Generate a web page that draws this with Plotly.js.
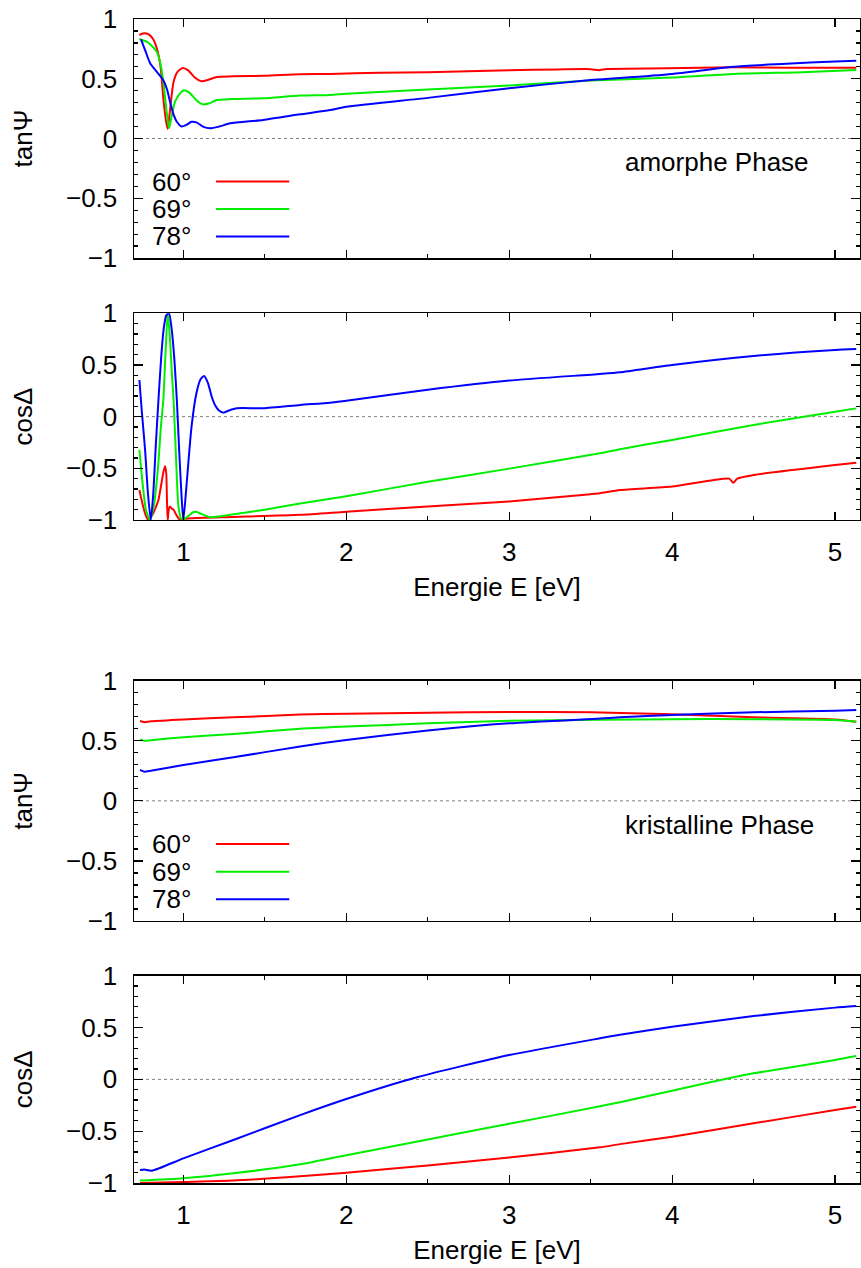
<!DOCTYPE html>
<html>
<head>
<meta charset="utf-8">
<script src="https://cdn.plot.ly/plotly-3.0.1.min.js"></script>
<style>html,body{margin:0;padding:0;background:#fff;}#chart{width:861px;height:1268px;}</style>
</head>
<body>
<div id="chart"></div>
<script>
// ---------- data ----------
const seriesNames = ["60°", "69°", "78°"];
const seriesColors = ["#ff0000", "#00ee00", "#0000ff"];
const xTitle = "Energie E [eV]";
const panelTitles = ["tanΨ", "cosΔ", "tanΨ", "cosΔ"];
const phaseLabels = ["amorphe Phase", "kristalline Phase"];

// Panel 1: amorphous, tan Psi
const amTan60E = [0.73,0.75,0.765,0.79,0.815,0.837,0.86,0.877,0.893,0.904,0.915,0.94,0.965,0.996,1.03,1.07,1.107,1.15,1.205,1.3,1.5,1.717,1.9,2.2,2.5,3.0,3.3,3.5,3.55,3.6,3.97,4.375,4.7,5.0,5.13];
const amTan60V = [0.866,0.878,0.88,0.87,0.83,0.755,0.6,0.336,0.15,0.08,0.2,0.475,0.56,0.59,0.57,0.51,0.48,0.49,0.515,0.52,0.525,0.538,0.54,0.55,0.555,0.572,0.578,0.58,0.572,0.582,0.587,0.596,0.593,0.592,0.593];
const amTan69E = [0.73,0.775,0.81,0.836,0.857,0.877,0.895,0.912,0.93,0.949,0.975,1.004,1.04,1.08,1.119,1.16,1.205,1.3,1.49,1.717,1.9,2.0,2.5,3.0,3.5,3.68,4.0,4.375,4.8,5.13];
const amTan69V = [0.833,0.81,0.77,0.727,0.64,0.475,0.25,0.085,0.2,0.308,0.37,0.403,0.38,0.32,0.286,0.295,0.322,0.33,0.336,0.359,0.364,0.375,0.41,0.443,0.485,0.494,0.51,0.54,0.555,0.573];
const amTan78E = [0.74,0.765,0.796,0.836,0.876,0.9,0.918,0.94,0.96,0.99,1.02,1.05,1.08,1.12,1.164,1.22,1.287,1.49,1.717,1.9,2.0,2.5,3.0,3.5,3.68,4.0,4.375,4.7,5.0,5.13];
const amTan78V = [0.83,0.74,0.63,0.56,0.49,0.41,0.308,0.2,0.14,0.1,0.115,0.14,0.135,0.1,0.085,0.1,0.127,0.155,0.202,0.238,0.265,0.34,0.42,0.49,0.506,0.54,0.601,0.625,0.645,0.651];

// Panel 2: amorphous, cos Delta
const amCos60E = [0.73,0.75,0.77,0.785,0.81,0.83,0.847,0.865,0.878,0.888,0.895,0.9,0.904,0.91,0.918,0.93,0.94,0.96,0.98,1.0,1.08,1.3,1.717,2.0,2.5,3.0,3.5,3.557,3.68,4.0,4.35,4.375,4.4,4.5,5.0,5.13];
const amCos60V = [-0.71,-0.85,-0.96,-1.0,-0.95,-0.88,-0.806,-0.65,-0.53,-0.48,-0.55,-0.85,-1.0,-0.9,-0.87,-0.89,-0.9,-0.96,-1.0,-0.99,-0.98,-0.97,-0.95,-0.92,-0.87,-0.82,-0.75,-0.741,-0.71,-0.677,-0.6,-0.64,-0.6,-0.564,-0.467,-0.445];
const amCos69E = [0.73,0.75,0.77,0.795,0.82,0.845,0.862,0.877,0.89,0.904,0.918,0.93,0.94,0.955,0.97,0.99,1.01,1.04,1.06,1.078,1.1,1.164,1.287,1.5,1.717,2.0,2.5,3.0,3.557,3.68,4.0,4.5,5.0,5.13];
const amCos69V = [-0.32,-0.65,-0.9,-1.0,-0.85,-0.48,-0.1,0.16,0.6,1.0,0.75,0.4,0.16,-0.4,-0.87,-1.0,-0.985,-0.95,-0.925,-0.92,-0.935,-0.973,-0.95,-0.9,-0.84,-0.77,-0.63,-0.503,-0.354,-0.315,-0.225,-0.08,0.048,0.08];
const amCos78E = [0.73,0.745,0.765,0.783,0.8,0.815,0.83,0.847,0.865,0.88,0.895,0.912,0.928,0.945,0.96,0.975,0.99,1.0,1.02,1.05,1.08,1.105,1.127,1.15,1.174,1.195,1.215,1.246,1.28,1.328,1.49,1.717,1.9,2.0,2.5,3.0,3.557,3.68,4.0,4.5,5.0,5.13];
const amCos78V = [0.355,0.05,-0.32,-0.75,-1.0,-0.75,-0.3,0.16,0.6,0.86,0.98,1.0,0.85,0.55,0.16,-0.35,-0.8,-1.0,-0.65,-0.1,0.226,0.36,0.394,0.33,0.193,0.11,0.065,0.039,0.06,0.081,0.081,0.113,0.135,0.155,0.26,0.349,0.413,0.43,0.5,0.587,0.645,0.655];

// Panel 3: crystalline, tan Psi
const krTan60E = [0.734,0.76,0.8,1.0,1.307,1.717,2.0,2.5,3.0,3.5,4.0,4.5,5.0,5.13];
const krTan60V = [0.664,0.655,0.662,0.678,0.695,0.718,0.725,0.733,0.74,0.737,0.72,0.695,0.678,0.659];
const krTan69E = [0.734,0.76,0.8,1.0,1.307,1.717,2.0,2.5,3.0,3.557,4.0,4.5,5.0,5.13];
const krTan69V = [0.512,0.5,0.505,0.529,0.556,0.6,0.618,0.645,0.666,0.675,0.68,0.68,0.673,0.659];
const krTan78E = [0.734,0.76,0.8,1.0,1.307,1.717,2.0,2.5,3.0,3.557,3.68,4.0,4.5,5.0,5.13];
const krTan78V = [0.257,0.243,0.25,0.298,0.362,0.453,0.507,0.585,0.645,0.685,0.695,0.714,0.737,0.75,0.756];

// Panel 4: crystalline, cos Delta
const krCos60E = [0.734,1.0,1.307,1.717,2.0,2.5,3.0,3.557,3.68,4.0,4.5,5.0,5.13];
const krCos60V = [-1.0,-0.99,-0.977,-0.935,-0.9,-0.83,-0.753,-0.656,-0.625,-0.553,-0.424,-0.296,-0.264];
const krCos69E = [0.734,1.0,1.307,1.717,2.0,2.5,3.0,3.557,3.68,4.0,4.376,4.5,5.0,5.13];
const krCos69V = [-0.977,-0.955,-0.907,-0.82,-0.732,-0.58,-0.429,-0.26,-0.22,-0.109,0.02,0.058,0.187,0.225];
const krCos78E = [0.734,0.76,0.806,1.0,1.307,1.717,2.0,2.433,3.0,3.557,3.68,4.0,4.5,5.0,5.13];
const krCos78V = [-0.875,-0.87,-0.881,-0.762,-0.585,-0.345,-0.19,0.02,0.234,0.396,0.43,0.508,0.611,0.692,0.708];

const panels = [
  [[amTan60E,amTan60V],[amTan69E,amTan69V],[amTan78E,amTan78V]],
  [[amCos60E,amCos60V],[amCos69E,amCos69V],[amCos78E,amCos78V]],
  [[krTan60E,krTan60V],[krTan69E,krTan69V],[krTan78E,krTan78V]],
  [[krCos60E,krCos60V],[krCos69E,krCos69V],[krCos78E,krCos78V]]
];

// ---------- layout ----------
const FONT = "Liberation Sans, Arial, Helvetica, sans-serif";
const FS = 26;
const domains = [[0.79467,1],[0.56959,0.74716],[0.22509,0.43153],[0,0.17809]];
const xRange = [0.697, 5.153];

const traces = [];
panels.forEach((p, pi) => {
  p.forEach((s, si) => {
    traces.push({
      type: "scatter", mode: "lines",
      x: s[0], y: s[1],
      xaxis: pi === 0 ? "x" : "x" + (pi + 1),
      yaxis: pi === 0 ? "y" : "y" + (pi + 1),
      line: {color: seriesColors[si], width: 2, shape: "spline", smoothing: 0.6},
      showlegend: false, hoverinfo: "skip"
    });
  });
});

const layout = {
  width: 861, height: 1268,
  margin: {l: 134, r: 1, t: 19, b: 85},
  paper_bgcolor: "#fff", plot_bgcolor: "#fff",
  font: {family: FONT, size: FS, color: "#000"},
  showlegend: false,
  shapes: [], annotations: []
};

for (let i = 0; i < 4; i++) {
  const xk = i === 0 ? "xaxis" : "xaxis" + (i + 1);
  const yk = i === 0 ? "yaxis" : "yaxis" + (i + 1);
  const yid = i === 0 ? "y" : "y" + (i + 1);
  const xid = i === 0 ? "x" : "x" + (i + 1);
  const withLabels = (i === 1 || i === 3);
  layout[xk] = {
    domain: [0, 1], anchor: yid, range: xRange,
    tickmode: "linear", tick0: 0, dtick: 1,
    ticks: "inside", ticklen: 8, tickwidth: 1.2, tickcolor: "#000",
    minor: {tickmode: "linear", tick0: 0, dtick: 0.5, ticks: "inside", ticklen: 4, tickwidth: 1.2, tickcolor: "#000"},
    showline: true, linecolor: "#000", linewidth: 1.5, mirror: "ticks",
    showgrid: false, zeroline: false,
    showticklabels: withLabels,
    tickfont: {family: FONT, size: FS, color: "#000"},
    ticklabelstandoff: 8,
    title: withLabels ? {text: xTitle, font: {family: FONT, size: FS}, standoff: 12} : {text: ""}
  };
  layout[yk] = {
    domain: domains[i], anchor: xid, range: [-1, 1],
    tickmode: "linear", tick0: 0, dtick: 0.5,
    ticks: "inside", ticklen: 9, tickwidth: 1.2, tickcolor: "#000",
    minor: {tickmode: "linear", tick0: 0, dtick: 0.1, ticks: "inside", ticklen: 4, tickwidth: 1.2, tickcolor: "#000"},
    showline: true, linecolor: "#000", linewidth: 1.5, mirror: "ticks",
    showgrid: false, zeroline: false,
    tickfont: {family: FONT, size: FS, color: "#000"},
    ticklabelstandoff: 10,
    title: {text: panelTitles[i], font: {family: FONT, size: FS}, standoff: 26}
  };
  // dotted zero line
  layout.shapes.push({
    type: "line", xref: xid + " domain", yref: yid,
    x0: 0, x1: 1, y0: 0, y1: 0, layer: "below",
    line: {color: "#808080", width: 1, dash: "dot"}
  });
}

// legend (gnuplot style: label then sample line) and phase labels
[0, 2].forEach((pi, k) => {
  const xid = pi === 0 ? "x" : "x" + (pi + 1);
  const yid = pi === 0 ? "y" : "y" + (pi + 1);
  const legY = [-0.36, -0.59, -0.82];
  seriesNames.forEach((nm, si) => {
    layout.annotations.push({
      xref: xid, yref: yid, x: 1.06, y: legY[si], text: nm,
      showarrow: false, xanchor: "right", yanchor: "middle",
      font: {family: FONT, size: FS, color: "#000"}
    });
    layout.shapes.push({
      type: "line", xref: xid, yref: yid,
      x0: 1.2, x1: 1.65, y0: legY[si], y1: legY[si],
      line: {color: seriesColors[si], width: 2}
    });
  });
  layout.annotations.push({
    xref: xid, yref: yid, x: 3.7, y: -0.2, text: phaseLabels[k],
    showarrow: false, xanchor: "left", yanchor: "middle",
    font: {family: FONT, size: FS, color: "#000"}
  });
});

Plotly.newPlot("chart", traces, layout, {staticPlot: true, displayModeBar: false});
</script>
</body>
</html>
